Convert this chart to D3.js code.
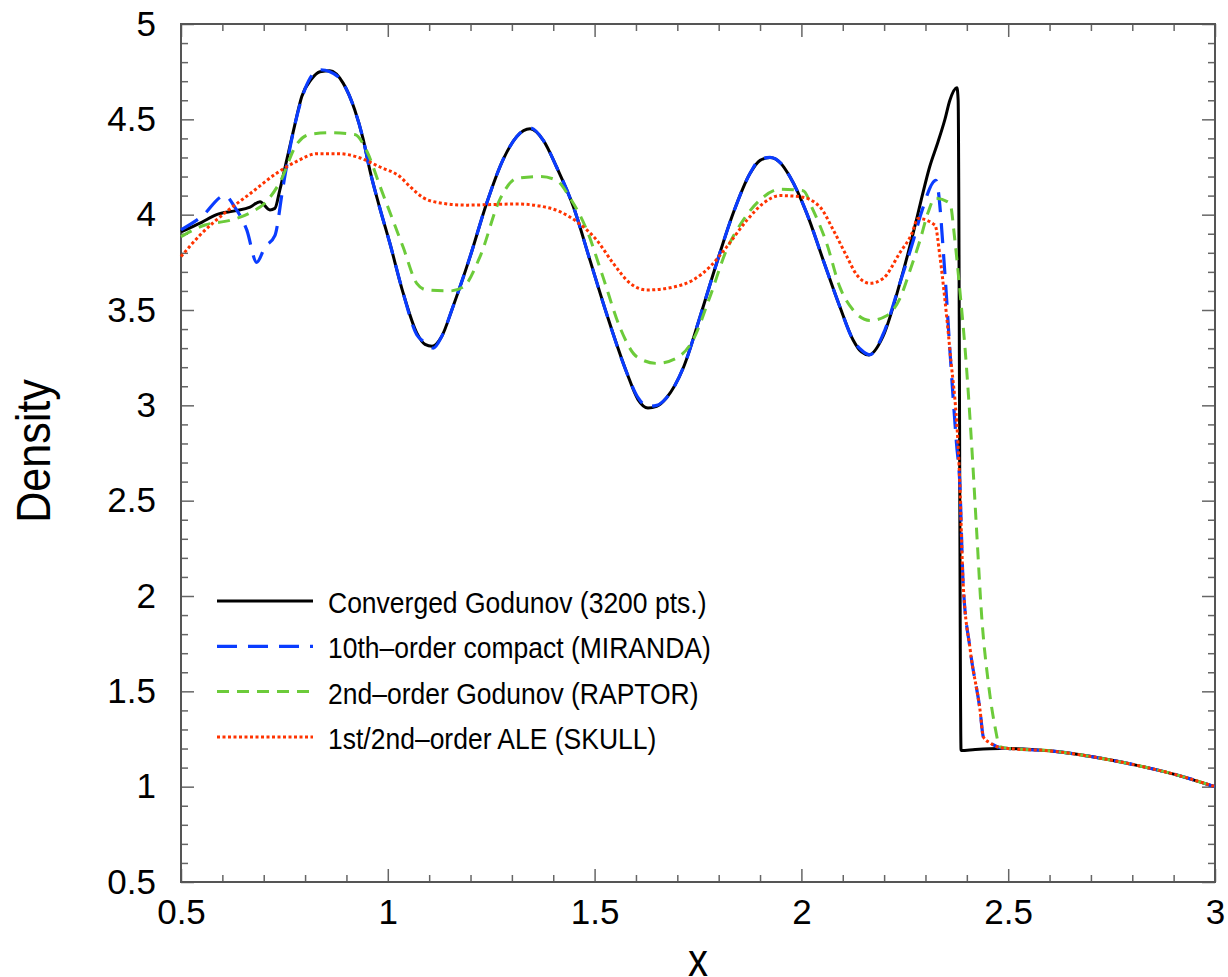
<!DOCTYPE html>
<html lang="en">
<head>
    <meta charset="UTF-8">
    <title>Density profile comparison</title>
    <script src="https://d3js.org/d3.v7.min.js"></script>
    <style>
        body { margin: 0; background: #fff; }
        text { font-family: "Liberation Sans", Arial, Helvetica, sans-serif; fill: #000; }
        .frame { fill: none; stroke: #555; stroke-width: 2; }
        .axis path { display: none; }
        .axis line { stroke: #666; stroke-width: 1.5; }
        .series { fill: none; stroke-linejoin: round; }
    </style>
</head>
<body>
<svg id="chart"></svg>
<script>
    // ---- data ----
    const legendLabels = [
        'Converged Godunov (3200 pts.)',
        '10th\u2013order compact (MIRANDA)',
        '2nd\u2013order Godunov (RAPTOR)',
        '1st/2nd\u2013order ALE (SKULL)'
    ];

    const xTicks = [0.5, 1, 1.5, 2, 2.5, 3];
    const yTicks = [0.5, 1, 1.5, 2, 2.5, 3, 3.5, 4, 4.5, 5];

    const tail = [[2.5, 1.20], [2.6, 1.188], [2.7, 1.158], [2.8, 1.117], [2.9, 1.066], [3.0, 1.0]];

    const godunovRef = [
        [0.5, 3.91], [0.55, 3.96], [0.586, 4.0], [0.63, 4.02], [0.667, 4.04], [0.691, 4.068],
        [0.715, 4.025], [0.727, 4.033], [0.739, 4.13], [0.756, 4.29], [0.775, 4.47], [0.792, 4.62],
        [0.815, 4.71], [0.836, 4.75], [0.86, 4.755], [0.892, 4.69], [0.92, 4.55], [0.94, 4.40],
        [0.957, 4.23], [0.98, 4.04], [1.005, 3.85], [1.037, 3.59], [1.07, 3.38], [1.09, 3.32],
        [1.107, 3.31], [1.13, 3.36], [1.158, 3.52], [1.199, 3.78], [1.239, 4.06], [1.279, 4.29],
        [1.312, 4.41], [1.344, 4.45], [1.376, 4.39], [1.408, 4.25], [1.449, 4.04], [1.489, 3.76],
        [1.529, 3.48], [1.578, 3.17], [1.605, 3.03], [1.629, 2.986], [1.65, 2.995], [1.674, 3.04],
        [1.715, 3.20], [1.755, 3.465], [1.795, 3.745], [1.835, 4.007], [1.876, 4.217], [1.9, 4.285],
        [1.924, 4.30], [1.95, 4.27], [1.972, 4.20], [2.013, 4.007], [2.053, 3.76], [2.093, 3.517],
        [2.125, 3.343], [2.145, 3.28], [2.163, 3.264], [2.197, 3.36], [2.238, 3.64], [2.27, 3.90],
        [2.29, 4.08], [2.31, 4.25], [2.33, 4.38], [2.347, 4.50], [2.359, 4.60], [2.376, 4.665],
        [2.379, 4.60], [2.386, 1.19], [2.42, 1.195], [2.48, 1.20]
    ].concat(tail);

    const miranda = [
        [0.5, 3.92], [0.55, 3.99], [0.606, 4.10], [0.63, 4.04], [0.659, 3.92], [0.683, 3.75],
        [0.703, 3.83], [0.727, 3.89], [0.747, 4.15], [0.77, 4.42], [0.80, 4.66], [0.836, 4.76],
        [0.86, 4.75], [0.892, 4.69], [0.92, 4.55], [0.94, 4.40], [0.957, 4.23], [0.98, 4.04],
        [1.005, 3.85], [1.037, 3.59], [1.07, 3.37], [1.09, 3.33], [1.11, 3.30], [1.13, 3.36],
        [1.158, 3.52], [1.199, 3.78], [1.239, 4.06], [1.279, 4.29], [1.312, 4.41], [1.344, 4.455],
        [1.376, 4.39], [1.408, 4.25], [1.449, 4.04], [1.489, 3.76], [1.529, 3.48], [1.578, 3.17],
        [1.605, 3.04], [1.629, 2.995], [1.65, 3.0], [1.674, 3.04], [1.715, 3.20], [1.755, 3.465],
        [1.795, 3.745], [1.835, 4.007], [1.876, 4.217], [1.9, 4.29], [1.924, 4.30], [1.95, 4.27],
        [1.972, 4.20], [2.013, 4.007], [2.053, 3.76], [2.093, 3.517], [2.125, 3.343], [2.145, 3.29],
        [2.165, 3.265], [2.197, 3.37], [2.238, 3.64], [2.27, 3.86], [2.29, 4.01], [2.325, 4.18],
        [2.347, 3.69], [2.359, 3.29], [2.375, 2.80], [2.383, 2.59], [2.391, 2.07], [2.408, 1.72],
        [2.432, 1.40], [2.44, 1.26], [2.456, 1.23], [2.48, 1.205]
    ].concat(tail);

    const raptor = [
        [0.5, 3.885], [0.558, 3.946], [0.618, 3.97], [0.667, 4.01], [0.707, 4.07], [0.739, 4.17],
        [0.78, 4.37], [0.81, 4.42], [0.86, 4.43], [0.92, 4.42], [0.95, 4.33], [0.981, 4.15],
        [1.037, 3.83], [1.07, 3.64], [1.094, 3.605], [1.15, 3.60], [1.182, 3.62], [1.223, 3.78],
        [1.271, 4.08], [1.312, 4.19], [1.368, 4.20], [1.408, 4.18], [1.44, 4.09], [1.481, 3.92],
        [1.52, 3.675], [1.561, 3.41], [1.602, 3.255], [1.65, 3.22], [1.698, 3.248], [1.738, 3.343],
        [1.779, 3.57], [1.819, 3.815], [1.859, 3.97], [1.9, 4.077], [1.948, 4.133], [2.004, 4.126],
        [2.028, 4.025], [2.061, 3.85], [2.093, 3.62], [2.125, 3.50], [2.166, 3.445], [2.206, 3.47],
        [2.238, 3.56], [2.263, 3.71], [2.287, 3.867], [2.306, 4.01], [2.323, 4.087], [2.359, 4.06],
        [2.371, 3.867], [2.383, 3.605], [2.396, 3.29], [2.412, 2.78], [2.424, 2.33], [2.436, 1.89],
        [2.452, 1.544], [2.468, 1.315], [2.48, 1.21]
    ].concat(tail);

    const skull = [
        [0.5, 3.78], [0.546, 3.893], [0.61, 4.016], [0.667, 4.11], [0.731, 4.217], [0.78, 4.28],
        [0.83, 4.32], [0.88, 4.32], [0.93, 4.30], [0.981, 4.25], [1.029, 4.20], [1.054, 4.147],
        [1.085, 4.09], [1.118, 4.065], [1.19, 4.05], [1.312, 4.056], [1.368, 4.045], [1.416, 4.016],
        [1.457, 3.963], [1.505, 3.867], [1.545, 3.745], [1.586, 3.64], [1.626, 3.605], [1.69, 3.62],
        [1.738, 3.657], [1.779, 3.727], [1.819, 3.83], [1.868, 3.97], [1.908, 4.06], [1.948, 4.10],
        [1.997, 4.094], [2.045, 4.04], [2.077, 3.92], [2.11, 3.78], [2.134, 3.684], [2.166, 3.64],
        [2.198, 3.666], [2.238, 3.80], [2.267, 3.90], [2.282, 3.98], [2.323, 3.945], [2.335, 3.78],
        [2.347, 3.553], [2.359, 3.29], [2.383, 2.59], [2.391, 2.07], [2.408, 1.72], [2.432, 1.40],
        [2.44, 1.26], [2.456, 1.23], [2.48, 1.205]
    ].concat(tail);

    // ---- layout ----
    const width = 1228, height = 977;
    const margin = { top: 24, right: 13, bottom: 95, left: 181 };
    const innerW = width - margin.left - margin.right;
    const innerH = height - margin.top - margin.bottom;

    const svg = d3.select('#chart').attr('width', width).attr('height', height);
    const g = svg.append('g').attr('transform', `translate(${margin.left},${margin.top})`);

    const x = d3.scaleLinear().domain([0.5, 3]).range([0, innerW]);
    const y = d3.scaleLinear().domain([0.5, 5]).range([innerH, 0]);

    const minorX = d3.range(5, 31).map(d => d / 10).filter(d => !xTicks.includes(d));
    const minorY = d3.range(5, 51).map(d => d / 10).filter(d => !yTicks.includes(d));

    // minor ticks, all four sides, pointing inward
    g.append('g').attr('class', 'axis').attr('transform', `translate(0,${innerH})`)
        .call(d3.axisBottom(x).tickValues(minorX).tickSize(-7).tickFormat(''));
    g.append('g').attr('class', 'axis')
        .call(d3.axisTop(x).tickValues(minorX).tickSize(-7).tickFormat(''));
    g.append('g').attr('class', 'axis')
        .call(d3.axisLeft(y).tickValues(minorY).tickSize(-7).tickFormat(''));
    g.append('g').attr('class', 'axis').attr('transform', `translate(${innerW},0)`)
        .call(d3.axisRight(y).tickValues(minorY).tickSize(-7).tickFormat(''));

    // major ticks with labels
    const xAxis = g.append('g').attr('class', 'axis').attr('transform', `translate(0,${innerH})`)
        .call(d3.axisBottom(x).tickValues(xTicks).tickSize(-13).tickPadding(17).tickFormat(d3.format('')));
    const yAxis = g.append('g').attr('class', 'axis')
        .call(d3.axisLeft(y).tickValues(yTicks).tickSize(-13).tickPadding(25).tickFormat(d3.format('')));
    g.append('g').attr('class', 'axis')
        .call(d3.axisTop(x).tickValues(xTicks).tickSize(-13).tickFormat(''));
    g.append('g').attr('class', 'axis').attr('transform', `translate(${innerW},0)`)
        .call(d3.axisRight(y).tickValues(yTicks).tickSize(-13).tickFormat(''));

    [xAxis, yAxis].forEach(a => a.selectAll('text')
        .style('font-size', '35px').style('font-family', '"Liberation Sans", Arial, sans-serif').attr('fill', '#000'));

    g.append('rect').attr('class', 'frame').attr('width', innerW).attr('height', innerH);

    // ---- series ----
    const line = d3.line().x(d => x(d[0])).y(d => y(d[1])).curve(d3.curveMonotoneX);

    const styles = [
        { data: godunovRef, color: '#000000', width: 3, dash: null },
        { data: miranda, color: '#0a3cff', width: 3.2, dash: '20,11' },
        { data: raptor, color: '#6ccb3a', width: 3, dash: '12,8' },
        { data: skull, color: '#ff3300', width: 3, dash: '3,2.5' }
    ];

    styles.forEach(s => {
        g.append('path').datum(s.data).attr('class', 'series')
            .attr('d', line)
            .attr('stroke', s.color)
            .attr('stroke-width', s.width)
            .attr('stroke-dasharray', s.dash);
    });

    // ---- legend ----
    const legend = svg.append('g').attr('transform', 'translate(217,601)');
    styles.forEach((s, i) => {
        const row = legend.append('g').attr('transform', `translate(0,${i * 45.3})`);
        row.append('line').attr('x1', 0).attr('x2', 96).attr('y1', 0).attr('y2', 0)
            .attr('stroke', s.color).attr('stroke-width', s.width)
            .attr('stroke-dasharray', s.dash);
        // the original lettering is a bit taller than it is wide
        row.append('text').attr('transform', 'translate(111,12) scale(1,1.12)')
            .style('font-size', '26.5px').text(legendLabels[i]);
    });

    // ---- axis titles ----
    svg.append('text').attr('transform', 'translate(50,451) rotate(-90) scale(1,1.13)')
        .attr('text-anchor', 'middle').style('font-size', '43px').text('Density');
    svg.append('text').attr('transform', 'translate(698,976) scale(1,1.15)')
        .attr('text-anchor', 'middle').style('font-size', '40px').text('x');
</script>
</body>
</html>
